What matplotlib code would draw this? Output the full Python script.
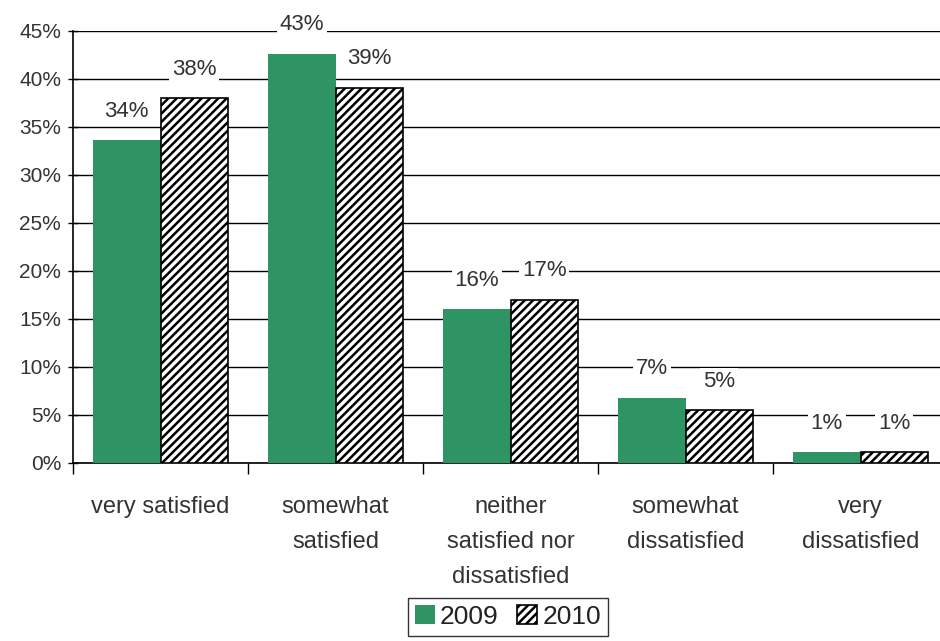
import matplotlib
matplotlib.use("Agg")
import matplotlib.pyplot as plt
import numpy as np

categories = ["very satisfied", "somewhat\nsatisfied", "neither\nsatisfied nor\ndissatisfied",
              "somewhat\ndissatisfied", "very\ndissatisfied"]
series_names = ["2009", "2010"]
values_2009 = [33.6, 42.6, 16.0, 6.8, 1.1]
values_2010 = [38.0, 39.1, 17.0, 5.5, 1.1]
labels_2009 = ["34%", "43%", "16%", "7%", "1%"]
labels_2010 = ["38%", "39%", "17%", "5%", "1%"]
yticks = [0, 5, 10, 15, 20, 25, 30, 35, 40, 45]

plt.rcParams['font.family'] = ['Liberation Sans', 'DejaVu Sans']
plt.rcParams['hatch.linewidth'] = 1.8
plt.rcParams['hatch.color'] = 'black'

GREEN = "#2e9463"
TXT = "#333333"

fig = plt.figure(figsize=(9.4, 6.41), dpi=100)
W, H = 940, 641
left, right, top, bottom = 73, 948, 31, 463
ax = fig.add_axes([left / W, (H - bottom) / H, (right - left) / W, (bottom - top) / H])

x = np.arange(len(categories))
bw = 0.385
b1 = ax.bar(x - bw / 2, values_2009, bw, color=GREEN, edgecolor='none', zorder=3, label=series_names[0])
b2 = ax.bar(x + bw / 2, values_2010, bw, color='white', edgecolor='black', linewidth=1.2,
            hatch='////', zorder=3, label=series_names[1])

for bars, labs in ((b1, labels_2009), (b2, labels_2010)):
    for rect, lab in zip(bars, labs):
        ax.annotate(lab, (rect.get_x() + rect.get_width() / 2, rect.get_height()),
                    xytext=(0, 21), textcoords='offset points', ha='center', va='center',
                    fontsize=16, color=TXT, zorder=5,
                    bbox=dict(boxstyle='square,pad=0.12', fc='white', ec='none'))

ax.set_xlim(-0.5, len(categories) - 0.5)
ax.set_ylim(0, 45)
ax.set_yticks(yticks)
ax.set_yticklabels([f"{v}%" for v in yticks], fontsize=15, color=TXT)
ax.yaxis.grid(True, color='black', linewidth=1.0, zorder=0)
ax.set_axisbelow(True)

ax.set_xticks(np.arange(len(categories) + 1) - 0.5)
ax.set_xticklabels([])
ax.set_xticks(x, minor=True)
ax.set_xticklabels(categories, minor=True, fontsize=17, color=TXT, linespacing=1.76, va='top')
ax.tick_params(axis='x', which='minor', length=0, pad=24)
ax.tick_params(axis='x', which='major', length=8, width=1, direction='out')
ax.tick_params(axis='y', length=7, width=1, direction='inout', pad=5)

for s in ('top', 'right'):
    ax.spines[s].set_visible(False)
for s in ('left', 'bottom'):
    ax.spines[s].set_linewidth(1.2)

leg = fig.legend(handles=[b1, b2], labels=series_names, loc='center',
                 bbox_to_anchor=(508 / W, (H - 617) / H), ncol=2, frameon=True,
                 fancybox=False, edgecolor='black', fontsize=19, handlelength=0.75,
                 handleheight=0.75, handletextpad=0.2, columnspacing=0.7, borderpad=0.25,
                 labelcolor='#222222')
leg.get_frame().set_linewidth(1.0)

fig.savefig("out.png", dpi=100)
